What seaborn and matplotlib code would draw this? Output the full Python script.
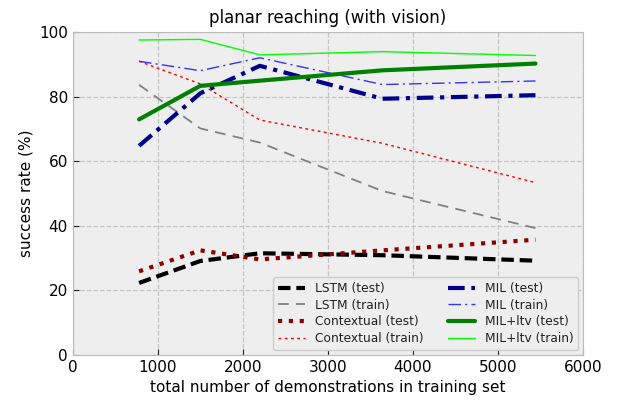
import matplotlib
matplotlib.use("Agg")
import matplotlib.pyplot as plt
import seaborn as sns
import pandas as pd

demos = [780, 1500, 2200, 3640, 5440]
lstm_test = [22.3, 29.1, 31.5, 30.9, 29.2]
lstm_train = [83.7, 70.2, 65.8, 50.8, 39.3]
ctx_test = [25.9, 32.4, 29.6, 32.4, 35.7]
ctx_train = [91.0, 84.0, 72.8, 65.6, 53.4]
mil_test = [64.8, 81.1, 89.6, 79.4, 80.5]
mil_train = [91.0, 88.1, 92.1, 83.8, 84.9]
milltv_test = [73.0, 83.4, 85.0, 88.2, 90.3]
milltv_train = [97.6, 97.8, 93.0, 94.0, 92.8]

series = [
    ("LSTM (test)", lstm_test, "black", (0, (3.0, 1.4)), 3.0),
    ("LSTM (train)", lstm_train, "gray", (0, (6, 4)), 1.3),
    ("Contextual (test)", ctx_test, "#8b0000", (0, (1, 1.6)), 3.0),
    ("Contextual (train)", ctx_train, "red", (0, (2, 2.5)), 1.0),
    ("MIL (test)", mil_test, "#00008b", (0, (4.0, 1.6, 1, 1.6)), 3.0),
    ("MIL (train)", mil_train, "#3333ff", (0, (9, 3, 1.5, 3)), 1.0),
    ("MIL+ltv (test)", milltv_test, "green", "-", 3.0),
    ("MIL+ltv (train)", milltv_train, "lime", "-", 1.0),
]

sns.set_style("darkgrid", {
    "axes.facecolor": "#eeeeee",
    "axes.edgecolor": "#bcbcbc",
    "grid.color": "#b2b2b2",
    "grid.linestyle": "--",
    "xtick.direction": "in",
    "ytick.direction": "in",
    "text.color": "black",
    "axes.labelcolor": "black",
    "xtick.color": "black",
    "ytick.color": "black",
})
plt.rcParams["font.family"] = ["DejaVu Sans"]

fig = plt.figure(figsize=(6.19, 4.01), dpi=100)
ax = fig.add_axes([0.1175, 0.115, 0.8245, 0.8045])

for name, vals, color, ls, lw in series:
    df = pd.DataFrame({"x": demos, "y": vals})
    sns.lineplot(data=df, x="x", y="y", ax=ax, color=color, linestyle=ls,
                 linewidth=lw, label=name)

ax.set_xlim(0, 6000)
ax.set_ylim(0, 100)
ax.set_xticks([0, 1000, 2000, 3000, 4000, 5000, 6000])
ax.set_yticks([0, 20, 40, 60, 80, 100])
ax.tick_params(axis="both", labelsize=11, length=4, color="#222222", width=0.8,
               direction="in", left=True, bottom=True, labelcolor="black")
for s in ax.spines.values():
    s.set_visible(True)
    s.set_color("#bcbcbc")
ax.grid(True, linestyle="--", color="#c4c4c4", linewidth=0.9)
ax.set_xlabel("total number of demonstrations in training set", fontsize=11, color="black")
ax.set_ylabel("success rate (%)", fontsize=11, color="black")
ax.set_title("planar reaching (with vision)", fontsize=12, color="black", pad=7)
leg = ax.legend(loc="lower right", ncol=2, fontsize=8.8, frameon=True,
                fancybox=True, facecolor="#eeeeee", edgecolor="#cccccc",
                columnspacing=2.0, handlelength=2.2, borderaxespad=0.4,
                labelspacing=0.3)
leg.get_frame().set_alpha(1.0)
for t in leg.get_texts():
    t.set_color("#222222")
fig.savefig("out.png", dpi=100)
